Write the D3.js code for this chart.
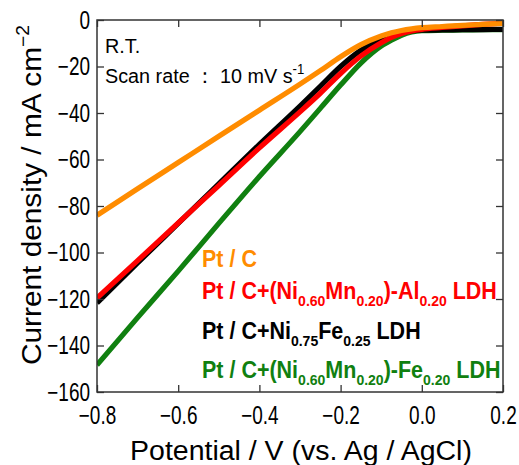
<!DOCTYPE html>
<html>
<head>
<meta charset="utf-8">
<script src="https://cdn.jsdelivr.net/npm/d3@7"></script>
<style>
  html, body { margin: 0; padding: 0; background: #fff; }
  svg { display: block; }
  text { font-family: "Liberation Sans", Arial, sans-serif; }
</style>
</head>
<body>
<svg id="chart" width="519" height="465"></svg>
<script>
// Polarization curves (HER) — potential vs. Ag/AgCl, current density in mA cm^-2
const potential = [-0.8, -0.7, -0.6, -0.5, -0.4, -0.3, -0.25, -0.2, -0.15, -0.1, -0.075, -0.05, -0.025, 0, 0.05, 0.1, 0.15, 0.2];
const ptC        = [-84, -72.6, -61.3, -50.0, -38.8, -27.6, -21.8, -15.8, -10.6, -6.9, -5.5, -4.5, -3.8, -3.3, -2.8, -2.3, -1.9, -1.5];
const ptCNiMnAl  = [-119.6, -103.5, -87.3, -71.2, -55, -39.5, -31.5, -23, -15.5, -9.8, -7.5, -5.8, -4.7, -4.0, -3.2, -2.5, -1.9, -1.3];
const ptCNiFe    = [-121.7, -104.5, -87.5, -70.5, -53.5, -37, -28.5, -20, -13, -8.3, -6.6, -5.4, -4.7, -4.4, -4.3, -4.2, -4.1, -4.0];
const ptCNiMnFe  = [-148.4, -128, -108, -87.5, -67.3, -48, -38, -28, -18.5, -11.2, -8.7, -6.6, -5.2, -4.6, -4.4, -4.3, -4.2, -4.1];

const xTicks = [-0.8, -0.6, -0.4, -0.2, 0.0, 0.2];
const yTicks = [0, -20, -40, -60, -80, -100, -120, -140, -160];

// Legend entries: [text, isSubscript] pieces
const legendItems = [
  { color: "#ff8c00", parts: [["Pt / C", false]] },
  { color: "#ff0000", parts: [["Pt / C+(Ni", false], ["0.60", true], ["Mn", false], ["0.20", true], [")-Al", false], ["0.20", true], [" LDH", false]] },
  { color: "#000000", parts: [["Pt / C+Ni", false], ["0.75", true], ["Fe", false], ["0.25", true], [" LDH", false]] },
  { color: "#108010", parts: [["Pt / C+(Ni", false], ["0.60", true], ["Mn", false], ["0.20", true], [")-Fe", false], ["0.20", true], [" LDH", false]] }
];

const series = [
  { values: ptCNiMnFe, color: "#108010" },
  { values: ptCNiFe,   color: "#000000" },
  { values: ptCNiMnAl, color: "#ff0000" },
  { values: ptC,       color: "#ff8c00" }
];

const svg = d3.select("#chart");
const plot = { left: 97, right: 503, top: 20, bottom: 392 };

const x = d3.scaleLinear().domain([-0.8, 0.2]).range([plot.left, plot.right]);
const y = d3.scaleLinear().domain([-160, 0]).range([plot.bottom, plot.top]);

// squeeze a text horizontally so that it spans the given width
function fitWidth(sel, width, base) {
  const w = sel.node().getBBox().width;
  const k = width / w;
  sel.attr("transform", `${base} scale(${k},1)`);
  return k;
}

svg.append("clipPath").attr("id", "plotClip")
  .append("rect")
  .attr("x", plot.left).attr("y", plot.top)
  .attr("width", plot.right - plot.left).attr("height", plot.bottom - plot.top);

// curves
const line = d3.line()
  .x((d, i) => x(potential[i]))
  .y(d => y(d))
  .curve(d3.curveMonotoneX);

svg.append("g").attr("clip-path", "url(#plotClip)")
  .selectAll("path").data(series).join("path")
  .attr("d", d => line(d.values))
  .attr("fill", "none")
  .attr("stroke", d => d.color)
  .attr("stroke-width", 5.2);

// axes with inward ticks
const axisColor = "#333";
const squeeze = 0.76;

const gx = svg.append("g").attr("transform", `translate(0,${plot.bottom})`)
  .call(d3.axisBottom(x).tickValues(xTicks).tickFormat(d3.format(".1f"))
    .tickSize(-7).tickSizeOuter(0).tickPadding(14));
const gy = svg.append("g").attr("transform", `translate(${plot.left},0)`)
  .call(d3.axisLeft(y).tickValues(yTicks).tickSize(-7).tickSizeOuter(0).tickPadding(7));
svg.append("g").attr("transform", `translate(0,${plot.top})`)
  .call(d3.axisTop(x).tickValues(xTicks).tickFormat("").tickSize(-7).tickSizeOuter(0));
svg.append("g").attr("transform", `translate(${plot.right},0)`)
  .call(d3.axisRight(y).tickValues(yTicks).tickFormat("").tickSize(-7).tickSizeOuter(0));

svg.selectAll(".domain").remove();
svg.selectAll(".tick line").attr("stroke", axisColor).attr("stroke-width", 1.3);

gx.selectAll(".tick text")
  .attr("font-size", 25).attr("fill", "#000")
  .attr("font-family", "Liberation Sans, Arial, sans-serif")
  .attr("transform", `scale(${squeeze},1)`);
gy.selectAll(".tick text")
  .attr("font-size", 25).attr("fill", "#000")
  .attr("font-family", "Liberation Sans, Arial, sans-serif")
  .attr("transform", `translate(-7,0) scale(${squeeze},1) translate(7,0)`);

// frame
svg.append("rect")
  .attr("x", plot.left).attr("y", plot.top)
  .attr("width", plot.right - plot.left).attr("height", plot.bottom - plot.top)
  .attr("fill", "none").attr("stroke", axisColor).attr("stroke-width", 1.5);

// axis titles
const xTitle = svg.append("text")
  .attr("text-anchor", "middle").attr("font-size", 28)
  .text("Potential / V (vs. Ag / AgCl)");
fitWidth(xTitle, 342, `translate(301,460)`);

const yTitle = svg.append("text")
  .attr("text-anchor", "start").attr("font-size", 28);
yTitle.append("tspan").text("Current density / mA cm");
yTitle.append("tspan").attr("dy", -12).attr("font-size", 18).text("−2");
fitWidth(yTitle, 340, `translate(41,365) rotate(-90)`);

// annotations
const rt = svg.append("text").attr("font-size", 21).text("R.T.");
const scan = svg.append("text").attr("font-size", 21);
scan.append("tspan").text("Scan rate ： 10 mV s");
scan.append("tspan").attr("dy", -9).attr("font-size", 14).text("-1");
const kScan = fitWidth(scan, 200, "translate(105,83)");
rt.attr("transform", `translate(105,53) scale(${kScan},1)`);

// legend
const legendBaselines = [267, 299, 339, 378];
const legendTexts = legendItems.map((item, i) => {
  const t = svg.append("text")
    .attr("font-size", 23).attr("font-weight", "bold").attr("fill", item.color);
  let shifted = false;
  item.parts.forEach(([str, sub]) => {
    const ts = t.append("tspan").text(str);
    if (sub) {
      ts.attr("font-size", 15).attr("dy", shifted ? 0 : 7);
      shifted = true;
    } else {
      ts.attr("dy", shifted ? -7 : 0);
      shifted = false;
    }
  });
  return t;
});
const kLegend = fitWidth(legendTexts[1], 295, `translate(202,${legendBaselines[1]})`);
legendTexts.forEach((t, i) => {
  if (i !== 1) t.attr("transform", `translate(202,${legendBaselines[i]}) scale(${kLegend},1)`);
});
</script>
</body>
</html>
